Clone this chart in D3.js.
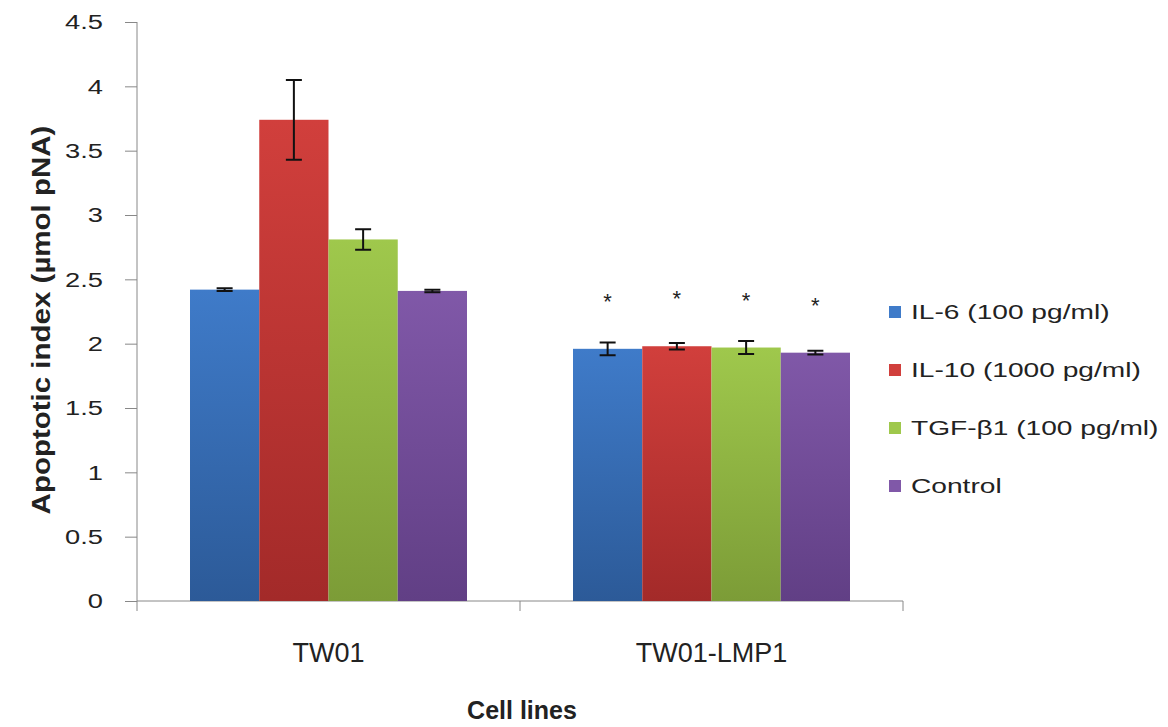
<!DOCTYPE html>
<meta charset="utf-8">
<style>
body { margin: 0; background: #fff; }
text { font-family: "Liberation Sans", "DejaVu Sans", sans-serif; fill: #222; }
.axis path, .axis line { stroke: #888; }
</style>
<svg width="1168" height="727"></svg>
<script src="https://cdnjs.cloudflare.com/ajax/libs/d3/7.8.5/d3.min.js"></script>
<script>

var cellLines = ["TW01", "TW01-LMP1"];
var treatments = ["IL-6 (100 pg/ml)", "IL-10 (1000 pg/ml)", "TGF-β1 (100 pg/ml)", "Control"];
// values[cellLine][treatment]
var means = [
  [2.42, 3.74, 2.81, 2.41],
  [1.96, 1.98, 1.97, 1.93]
];
var errors = [
  [0.01, 0.31, 0.08, 0.01],
  [0.05, 0.025, 0.05, 0.015]
];
var significant = [
  [false, false, false, false],
  [true, true, true, true]
];
var yTicks = [0, 0.5, 1, 1.5, 2, 2.5, 3, 3.5, 4, 4.5];

var colors = [
  ["#3f7bc9", "#2c5a98"],
  ["#d13f3c", "#a32a29"],
  ["#9fc84c", "#7c9c37"],
  ["#8058a8", "#613f85"]
];

var svg = d3.select("svg");

var x0 = d3.scaleBand()
    .domain(cellLines)
    .range([137, 903]);

var x1 = d3.scaleBand()
    .domain(treatments)
    .range([0, 277]);

var y = d3.scaleLinear()
    .domain([0, 4.5])
    .range([601, 22]);

var defs = svg.append("defs");
colors.forEach(function(c, i) {
  var g = defs.append("linearGradient")
      .attr("id", "grad" + i)
      .attr("x1", 0).attr("y1", 0).attr("x2", 0).attr("y2", 1);
  g.append("stop").attr("offset", "0%").attr("stop-color", c[0]);
  g.append("stop").attr("offset", "100%").attr("stop-color", c[1]);
});

// axes
svg.append("g")
    .attr("class", "axis")
    .attr("transform", "translate(137,0)")
    .call(d3.axisLeft(y).tickValues(yTicks).tickSize(12).tickFormat(d3.format("")))
    .call(function(g) {
      g.select(".domain").attr("d", "M0,22V601");
      g.selectAll(".tick text")
        .attr("x", 0)
        .attr("font-size", 21)
        .attr("fill", "#222")
        .attr("transform", "translate(-34,0) scale(1.3,1)");
    });

svg.append("g")
    .attr("class", "axis")
    .attr("transform", "translate(0,601)")
    .call(d3.axisBottom(x0).tickSize(10).tickFormat(""))
    .call(function(g) {
      g.select(".domain").attr("d", "M137,0H903");
      g.selectAll(".tick").remove();
      var edges = [137, x0("TW01-LMP1"), 903];
      g.selectAll(".edge").data(edges).enter().append("line")
        .attr("x1", function(d) { return d; }).attr("x2", function(d) { return d; })
        .attr("y1", 0).attr("y2", 10);
    });

// bars
var groups = svg.append("g").selectAll("g")
  .data(cellLines)
  .enter().append("g")
    .attr("transform", function(d) { return "translate(" + (x0(d) + (x0.bandwidth() - 277) / 2) + ",0)"; });

groups.each(function(cl, ci) {
  var g = d3.select(this);
  treatments.forEach(function(t, ti) {
    var cx = x1(t) + x1.bandwidth() / 2;
    g.append("rect")
      .attr("x", x1(t))
      .attr("width", x1.bandwidth())
      .attr("y", y(means[ci][ti]))
      .attr("height", y(0) - y(means[ci][ti]))
      .attr("fill", "url(#grad" + ti + ")");
    var top = y(means[ci][ti] + errors[ci][ti]),
        bot = y(means[ci][ti] - errors[ci][ti]);
    g.append("path")
      .attr("d", "M" + cx + "," + top + "V" + bot +
                 "M" + (cx - 8) + "," + top + "H" + (cx + 8) +
                 "M" + (cx - 8) + "," + bot + "H" + (cx + 8))
      .attr("stroke", "#111")
      .attr("stroke-width", 2)
      .attr("fill", "none");
    if (significant[ci][ti]) {
      g.append("text")
        .attr("x", cx)
        .attr("y", y(means[ci][ti]) - 40)
        .attr("text-anchor", "middle")
        .attr("font-size", 22)
        .attr("fill", "#333")
        .text("*");
    }
  });
});

// category labels
svg.append("g").selectAll("text")
  .data(cellLines)
  .enter().append("text")
    .attr("x", function(d) { return x0(d) + x0.bandwidth() / 2; })
    .attr("y", 662)
    .attr("text-anchor", "middle")
    .attr("font-size", 27)
    .text(function(d) { return d; });

svg.append("text")
    .attr("x", 522)
    .attr("y", 719)
    .attr("text-anchor", "middle")
    .attr("font-size", 25)
    .attr("font-weight", "bold")
    .text("Cell lines");

svg.append("text")
    .attr("transform", "translate(50,320) rotate(-90) scale(1.18,1)")
    .attr("text-anchor", "middle")
    .attr("font-size", 25)
    .attr("font-weight", "bold")
    .text("Apoptotic index (µmol pNA)");

// legend
var legend = svg.append("g").selectAll("g")
  .data(treatments)
  .enter().append("g")
    .attr("transform", function(d, i) { return "translate(889," + (319 + i * 58) + ")"; });

legend.append("rect")
  .attr("x", 0).attr("y", -13)
  .attr("width", 12).attr("height", 12)
  .attr("fill", function(d, i) { return colors[i][0]; });

legend.append("text")
  .attr("transform", "translate(22,0) scale(1.34,1)")
  .attr("font-size", 21)
  .text(function(d) { return d; });

</script>
